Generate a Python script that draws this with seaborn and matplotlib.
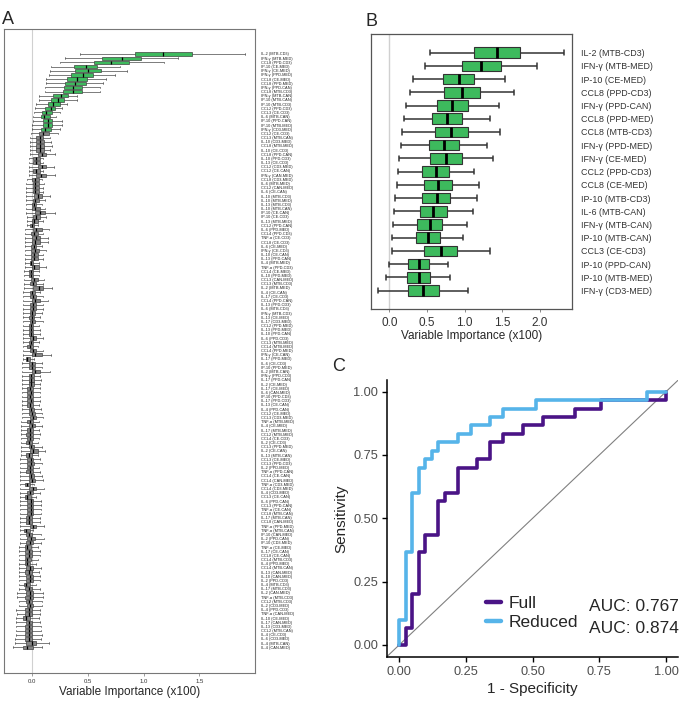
import numpy as np
import pandas as pd
import matplotlib
matplotlib.use("Agg")
import matplotlib.pyplot as plt
from matplotlib.lines import Line2D
import seaborn as sns

sns.set_theme(style="white")
plt.rcParams["font.family"] = ["Liberation Sans", "DejaVu Sans"]

GREEN = "#3dba5d"
GRAY = "#858585"
PURPLE = "#4a1486"
BLUE = "#56b4e9"

# ---------------- Panel A data ----------------
a_labels = [
    "IL-2 (MTB-CD3)", "IFN-γ (MTB-MED)", "CCL8 (PPD-CD3)", "IP-10 (CE-MED)", "IFN-γ (CE-MED)",
    "IFN-γ (PPD-MED)", "CCL8 (CE-MED)", "CCL8 (PPD-MED)", "IFN-γ (PPD-CAN)", "CCL8 (MTB-CD3)",
    "IFN-γ (MTB-CAN)", "IP-10 (MTB-CAN)", "IP-10 (MTB-CD3)", "CCL2 (PPD-CD3)", "CCL3 (CE-CD3)",
    "IL-6 (MTB-CAN)", "IP-10 (PPD-CAN)", "IP-10 (MTB-MED)", "IFN-γ (CD3-MED)", "CCL2 (CE-CD3)",
    "CCL3 (MTB-CAN)", "IL-10 (CD3-MED)", "CCL8 (MTB-MED)", "IL-10 (CE-CD3)", "CCL8 (PPD-CAN)",
    "IL-10 (PPD-CD3)", "IL-13 (CE-CD3)", "CCL2 (CD3-MED)", "CCL2 (CE-CAN)", "IFN-γ (CAN-MED)",
    "CCL8 (CD3-MED)", "IL-6 (MTB-MED)", "CCL2 (CAN-MED)", "IL-6 (CE-CAN)", "IL-10 (MTB-CD3)",
    "IL-10 (MTB-MED)", "IL-13 (MTB-CD3)", "IL-10 (MTB-CAN)", "IP-10 (CE-CAN)", "IP-10 (CE-CD3)",
    "IL-13 (MTB-MED)", "CCL2 (PPD-CAN)", "IL-6 (PPD-MED)", "CCL4 (PPD-CD3)", "TNF-α (CE-CD3)",
    "CCL8 (CE-CD3)", "IL-6 (CE-MED)", "IFN-γ (CE-CD3)", "IL-10 (CE-CAN)", "IL-13 (PPD-CAN)",
    "IL-4 (MTB-MED)", "TNF-α (PPD-CD3)", "CCL4 (CE-MED)", "IL-10 (PPD-MED)", "CCL3 (CAN-MED)",
    "CCL3 (MTB-CD3)", "IL-2 (MTB-MED)", "IL-4 (CE-CAN)", "IL-17 (CE-CD3)", "CCL4 (PPD-CAN)",
    "IL-13 (PPD-CD3)", "IL-6 (MTB-CD3)", "IFN-γ (MTB-CD3)", "IL-13 (CE-MED)", "IL-17 (CD3-MED)",
    "CCL2 (PPD-MED)", "IL-13 (PPD-MED)", "IL-10 (PPD-CAN)", "IL-6 (PPD-CD3)", "CCL3 (MTB-MED)",
    "CCL4 (MTB-MED)", "CCL4 (PPD-MED)", "IFN-γ (CE-CAN)", "IL-17 (PPD-MED)", "IL-6 (CE-CD3)",
    "IP-10 (PPD-MED)", "IL-2 (MTB-CAN)", "IFN-γ (PPD-CD3)", "IL-17 (PPD-CAN)", "IL-2 (CE-MED)",
    "IL-17 (CE-MED)", "IL-6 (CAN-MED)", "IP-10 (PPD-CD3)", "IL-17 (PPD-CD3)", "IL-13 (CE-CAN)",
    "IL-4 (PPD-CAN)", "CCL2 (CE-MED)", "CCL3 (CD3-MED)", "TNF-α (MTB-MED)", "IL-4 (CE-MED)",
    "IL-17 (MTB-MED)", "CCL2 (MTB-MED)", "CCL4 (CE-CD3)", "IL-2 (CE-CD3)", "CCL3 (PPD-MED)",
    "IL-2 (CE-CAN)", "IL-13 (MTB-CAN)", "CCL3 (CE-MED)", "CCL3 (PPD-CD3)", "IL-2 (PPD-MED)",
    "TNF-α (PPD-CAN)", "CCL4 (CE-CAN)", "CCL4 (CAN-MED)", "TNF-α (CD3-MED)", "CCL4 (CD3-MED)",
    "IL-4 (CD3-MED)", "CCL3 (CE-CAN)", "IL-6 (PPD-CAN)", "CCL3 (PPD-CAN)", "TNF-α (CE-CAN)",
    "CCL8 (MTB-CAN)", "IL-17 (MTB-CAN)", "CCL8 (CAN-MED)", "TNF-α (PPD-MED)", "TNF-α (MTB-CAN)",
    "IP-10 (CAN-MED)", "IL-2 (PPD-CAN)", "IP-10 (CD3-MED)", "TNF-α (CE-MED)", "IL-17 (CE-CAN)",
    "CCL8 (CE-CAN)", "CCL4 (MTB-CD3)", "IL-4 (PPD-MED)", "CCL4 (MTB-CAN)", "IL-13 (CAN-MED)",
    "IL-10 (CAN-MED)", "IL-2 (PPD-CD3)", "IL-4 (MTB-CD3)", "IL-17 (MTB-CD3)", "IL-2 (CAN-MED)",
    "TNF-α (MTB-CD3)", "CCL2 (MTB-CD3)", "IL-2 (CD3-MED)", "IL-4 (PPD-CD3)", "TNF-α (CAN-MED)",
    "IL-10 (CE-MED)", "IL-17 (CAN-MED)", "IL-13 (CD3-MED)", "CCL2 (MTB-CAN)", "IL-4 (CE-CD3)",
    "IL-6 (CD3-MED)", "IL-4 (MTB-CAN)", "IL-4 (CAN-MED)",
]
a_lo = [
    0.43, 0.30, 0.25, 0.17, 0.16, 0.15, 0.13, 0.13, 0.12, 0.12,
    0.06, 0.06, 0.04, 0.03, 0.02, 0.01, 0.01, 0.00, 0.00, -0.01,
    -0.02, -0.02, -0.02, -0.02, -0.02, -0.03, -0.03, -0.03, -0.03, -0.03,
    -0.04, -0.05, -0.05, -0.05, -0.05, -0.05, -0.05, -0.05, -0.05, -0.04,
    -0.04, -0.04, -0.06, -0.06, -0.06, -0.06, -0.06, -0.06, -0.06, -0.06,
    -0.06, -0.06, -0.07, -0.07, -0.07, -0.07, -0.07, -0.08, -0.08, -0.08,
    -0.08, -0.08, -0.08, -0.08, -0.08, -0.08, -0.08, -0.08, -0.08, -0.08,
    -0.08, -0.08, -0.08, -0.08, -0.09, -0.09, -0.09, -0.09, -0.09, -0.09,
    -0.09, -0.09, -0.09, -0.09, -0.09, -0.09, -0.09, -0.09, -0.10, -0.10,
    -0.10, -0.10, -0.10, -0.10, -0.10, -0.10, -0.10, -0.11, -0.11, -0.11,
    -0.11, -0.11, -0.11, -0.11, -0.11, -0.11, -0.11, -0.11, -0.11, -0.11,
    -0.11, -0.11, -0.11, -0.11, -0.11, -0.11, -0.11, -0.11, -0.12, -0.12,
    -0.12, -0.12, -0.12, -0.12, -0.12, -0.12, -0.12, -0.12, -0.12, -0.13,
    -0.13, -0.12, -0.12, -0.14, -0.13, -0.14, -0.14, -0.14, -0.14, -0.14,
    -0.15, -0.15, -0.17,
]
a_q1 = [
    0.92, 0.63, 0.56, 0.38, 0.39, 0.35, 0.31, 0.30, 0.29, 0.28,
    0.19, 0.17, 0.14, 0.12, 0.09, 0.08, 0.10, 0.10, 0.08, 0.06,
    0.04, 0.04, 0.04, 0.04, 0.05, 0.01, 0.01, 0.05, 0.01, 0.04,
    0.00, 0.01, 0.01, 0.01, 0.02, 0.01, 0.00, 0.00, 0.03, 0.01,
    0.00, -0.02, 0.01, -0.01, 0.00, 0.00, -0.01, -0.01, -0.01, -0.01,
    -0.02, 0.00, -0.03, -0.03, -0.01, -0.02, 0.01, -0.02, -0.02, 0.00,
    -0.02, -0.02, -0.02, -0.03, -0.02, -0.03, -0.03, -0.03, -0.02, -0.03,
    -0.04, -0.02, 0.00, -0.05, -0.03, -0.03, 0.00, -0.03, -0.03, -0.03,
    -0.04, -0.04, -0.04, -0.04, -0.04, -0.03, -0.03, -0.02, -0.04, -0.03,
    -0.04, -0.05, -0.04, -0.05, -0.03, -0.02, -0.05, -0.04, -0.04, -0.04,
    -0.05, -0.03, -0.03, -0.06, -0.03, -0.04, -0.06, -0.04, -0.04, -0.04,
    -0.04, -0.05, -0.05, -0.02, -0.07, -0.05, -0.04, -0.05, -0.06, -0.06,
    -0.06, -0.06, -0.06, -0.05, -0.06, -0.05, -0.05, -0.07, -0.06, -0.05,
    -0.06, -0.05, -0.04, -0.06, -0.06, -0.08, -0.05, -0.06, -0.06, -0.06,
    -0.06, -0.05, -0.08,
]
a_med = [
    1.17, 0.81, 0.71, 0.48, 0.50, 0.46, 0.40, 0.39, 0.37, 0.37,
    0.26, 0.23, 0.19, 0.17, 0.13, 0.11, 0.14, 0.14, 0.12, 0.10,
    0.07, 0.07, 0.07, 0.07, 0.09, 0.04, 0.04, 0.09, 0.04, 0.08,
    0.03, 0.03, 0.03, 0.03, 0.05, 0.03, 0.02, 0.03, 0.07, 0.04,
    0.02, 0.00, 0.04, 0.02, 0.04, 0.03, 0.02, 0.03, 0.02, 0.02,
    -0.01, 0.02, -0.01, -0.01, 0.02, 0.01, 0.06, 0.00, 0.01, 0.03,
    0.01, 0.01, 0.00, 0.00, 0.00, -0.01, -0.01, -0.01, 0.01, -0.01,
    -0.02, 0.01, 0.03, -0.04, 0.00, 0.00, 0.03, -0.01, -0.01, -0.01,
    -0.02, -0.01, -0.02, -0.01, -0.02, -0.01, 0.00, 0.01, -0.02, 0.00,
    -0.02, -0.02, -0.02, -0.03, -0.01, 0.01, -0.03, -0.01, -0.01, -0.02,
    -0.02, -0.01, 0.00, -0.04, 0.01, -0.02, -0.04, -0.01, -0.01, -0.01,
    -0.01, -0.03, -0.03, 0.01, -0.05, -0.03, -0.01, -0.02, -0.04, -0.03,
    -0.03, -0.04, -0.04, -0.02, -0.03, -0.02, -0.02, -0.05, -0.03, -0.02,
    -0.02, -0.03, -0.02, -0.03, -0.03, -0.05, -0.03, -0.03, -0.03, -0.03,
    -0.03, 0.00, -0.04,
]
a_q3 = [
    1.43, 0.98, 0.87, 0.58, 0.62, 0.55, 0.49, 0.48, 0.45, 0.45,
    0.32, 0.29, 0.25, 0.21, 0.18, 0.16, 0.18, 0.18, 0.17, 0.15,
    0.10, 0.11, 0.11, 0.11, 0.13, 0.07, 0.07, 0.13, 0.07, 0.13,
    0.06, 0.06, 0.06, 0.06, 0.09, 0.06, 0.04, 0.07, 0.12, 0.07,
    0.05, 0.02, 0.09, 0.05, 0.07, 0.07, 0.04, 0.06, 0.05, 0.05,
    0.01, 0.06, 0.01, 0.01, 0.05, 0.04, 0.10, 0.03, 0.04, 0.07,
    0.04, 0.04, 0.03, 0.02, 0.03, 0.01, 0.01, 0.01, 0.04, 0.01,
    0.01, 0.04, 0.09, -0.02, 0.03, 0.03, 0.07, 0.02, 0.02, 0.02,
    0.01, 0.01, 0.01, 0.01, 0.01, 0.02, 0.03, 0.04, 0.01, 0.03,
    0.01, 0.01, 0.01, 0.00, 0.02, 0.05, 0.00, 0.01, 0.02, 0.01,
    0.01, 0.02, 0.03, -0.02, 0.04, 0.01, -0.01, 0.01, 0.01, 0.01,
    0.01, 0.00, 0.00, 0.04, -0.02, 0.00, 0.03, 0.01, -0.01, 0.00,
    0.00, -0.01, -0.02, 0.01, 0.00, 0.01, 0.01, -0.02, 0.00, 0.01,
    0.01, 0.00, 0.01, 0.00, 0.00, -0.02, 0.00, 0.00, 0.00, 0.00,
    0.00, 0.04, 0.01,
]
a_hi = [
    1.91, 1.31, 1.18, 0.79, 0.85, 0.74, 0.66, 0.64, 0.61, 0.61,
    0.40, 0.40, 0.31, 0.27, 0.25, 0.22, 0.27, 0.27, 0.25, 0.23,
    0.16, 0.17, 0.18, 0.16, 0.21, 0.10, 0.10, 0.20, 0.10, 0.21,
    0.09, 0.11, 0.10, 0.10, 0.16, 0.12, 0.09, 0.12, 0.21, 0.13,
    0.10, 0.05, 0.15, 0.10, 0.14, 0.14, 0.09, 0.13, 0.10, 0.10,
    0.06, 0.13, 0.06, 0.06, 0.11, 0.10, 0.18, 0.07, 0.10, 0.14,
    0.10, 0.10, 0.09, 0.07, 0.10, 0.06, 0.07, 0.07, 0.10, 0.06,
    0.05, 0.10, 0.17, 0.02, 0.09, 0.09, 0.16, 0.07, 0.08, 0.07,
    0.07, 0.07, 0.07, 0.07, 0.06, 0.08, 0.09, 0.10, 0.06, 0.09,
    0.06, 0.07, 0.06, 0.05, 0.09, 0.12, 0.05, 0.07, 0.09, 0.06,
    0.07, 0.09, 0.10, 0.02, 0.11, 0.07, 0.04, 0.08, 0.08, 0.08,
    0.08, 0.07, 0.07, 0.11, 0.01, 0.08, 0.11, 0.08, 0.05, 0.07,
    0.07, 0.05, 0.04, 0.08, 0.06, 0.07, 0.07, 0.04, 0.07, 0.10,
    0.10, 0.09, 0.09, 0.07, 0.07, 0.06, 0.07, 0.08, 0.08, 0.09,
    0.08, 0.15, 0.09,
]
a_n_selected = 19

# ---------------- Panel B data ----------------
b_labels = [
    "IL-2 (MTB-CD3)", "IFN-γ (MTB-MED)", "IP-10 (CE-MED)", "CCL8 (PPD-CD3)", "IFN-γ (PPD-CAN)",
    "CCL8 (PPD-MED)", "CCL8 (MTB-CD3)", "IFN-γ (PPD-MED)", "IFN-γ (CE-MED)", "CCL2 (PPD-CD3)",
    "CCL8 (CE-MED)", "IP-10 (MTB-CD3)", "IL-6 (MTB-CAN)", "IFN-γ (MTB-CAN)", "IP-10 (MTB-CAN)",
    "CCL3 (CE-CD3)", "IP-10 (PPD-CAN)", "IP-10 (MTB-MED)", "IFN-γ (CD3-MED)",
]
b_lo = [0.54, 0.47, 0.31, 0.27, 0.22, 0.19, 0.17, 0.15, 0.13, 0.11,
        0.10, 0.08, 0.06, 0.05, 0.04, 0.04, 0.00, -0.04, -0.15]
b_q1 = [1.13, 0.97, 0.71, 0.73, 0.63, 0.56, 0.60, 0.52, 0.54, 0.44,
        0.46, 0.44, 0.41, 0.37, 0.35, 0.46, 0.25, 0.24, 0.25]
b_med = [1.43, 1.22, 0.92, 0.96, 0.83, 0.76, 0.82, 0.72, 0.75, 0.62,
         0.64, 0.63, 0.58, 0.54, 0.51, 0.68, 0.39, 0.39, 0.45]
b_q3 = [1.74, 1.48, 1.13, 1.20, 1.05, 0.96, 1.05, 0.92, 0.97, 0.79,
        0.83, 0.81, 0.76, 0.70, 0.67, 0.90, 0.52, 0.54, 0.66]
b_hi = [2.32, 1.96, 1.54, 1.66, 1.45, 1.34, 1.47, 1.30, 1.38, 1.13,
        1.19, 1.16, 1.11, 1.03, 0.98, 1.33, 0.78, 0.81, 1.05]

# ---------------- Panel C data ----------------
fpr_full = [0, 0.024, 0.049, 0.073, 0.098, 0.146, 0.171, 0.220, 0.293, 0.341,
            0.390, 0.463, 0.537, 0.659, 0.756, 1.0]
tpr_full = [0, 0.067, 0.200, 0.367, 0.433, 0.567, 0.600, 0.700, 0.733, 0.800,
            0.833, 0.867, 0.900, 0.933, 0.967, 1.0]
fpr_red = [0, 0, 0.024, 0.049, 0.073, 0.098, 0.122, 0.146, 0.220, 0.268,
           0.341, 0.390, 0.512, 0.927, 1.0]
tpr_red = [0, 0.100, 0.367, 0.600, 0.700, 0.733, 0.767, 0.800, 0.833, 0.867,
           0.900, 0.933, 0.967, 1.0, 1.0]
models = ["Full", "Reduced"]
aucs = ["AUC: 0.767", "AUC: 0.874"]


def box_frame(lo, q1, med, q3, hi, groups):
    n = len(lo)
    vals = np.column_stack([lo, q1, med, q3, hi]).ravel()
    return pd.DataFrame({"pos": np.repeat(np.arange(n), 5),
                         "value": vals,
                         "group": np.repeat(groups, 5)})


W, H = 685, 703
fig = plt.figure(figsize=(W / 100, H / 100), dpi=100)
fig.patch.set_facecolor("white")


def px_axes(x0, y0, x1, y1):
    return fig.add_axes([x0 / W, 1 - y1 / H, (x1 - x0) / W, (y1 - y0) / H])


axA = px_axes(4, 28.7, 255.3, 673)
axB = px_axes(371, 34.3, 571.7, 309)
axC = px_axes(386.7, 380, 678.3, 657.3)

# ---------- Panel A ----------
nA = len(a_labels)
a_groups = ["sel" if i < a_n_selected else "other" for i in range(nA)]
dfA = box_frame(a_lo, a_q1, a_med, a_q3, a_hi, a_groups)
axA.axvline(0, color="#d0d0d0", lw=0.8, zorder=0)
sns.boxplot(data=dfA, x="value", y="pos", hue="group", orient="h",
            palette={"sel": GREEN, "other": GRAY}, hue_order=["sel", "other"],
            saturation=1, whis=(0, 100), width=0.78, dodge=False, legend=False,
            showfliers=False, linewidth=0.45, linecolor="#333333",
            medianprops={"color": "black", "linewidth": 0.9}, ax=axA)
axA.set_xlim(-0.25, 2.0)
axA.set_ylim(nA - 1 + 6.15, -6.05)
axA.yaxis.tick_right()
axA.set_yticks(range(nA))
axA.set_yticklabels(a_labels, fontsize=2.8, color="#222222")
axA.tick_params(axis="y", length=0, pad=3.9, right=True, left=False)
axA.set_xticks([0, 0.5, 1.0, 1.5])
axA.set_xticklabels(["0.0", "0.5", "1.0", "1.5"], fontsize=4.3, color="#333333")
axA.tick_params(axis="x", bottom=True, length=2, width=0.5, color="#777777", pad=2)
axA.set_xlabel("Variable Importance (x100)", fontsize=8.5, labelpad=2)
axA.set_ylabel("")
for s in axA.spines.values():
    s.set_color("#777777")
    s.set_linewidth(0.8)

# ---------- Panel B ----------
nB = len(b_labels)
dfB = box_frame(b_lo, b_q1, b_med, b_q3, b_hi, ["sel"] * nB)
axB.axvline(0, color="#d0d0d0", lw=1.0, zorder=0)
sns.boxplot(data=dfB, x="value", y="pos", hue="group", orient="h",
            palette={"sel": GREEN}, saturation=1, whis=(0, 100), width=0.8,
            dodge=False, legend=False, showfliers=False, linewidth=1.1,
            linecolor="#333333", boxprops={"linewidth": 0.8},
            medianprops={"color": "black", "linewidth": 2.0}, ax=axB)
axB.set_xlim(-0.243, 2.42)
axB.set_ylim(nB - 1 + 1.39, -1.39)
axB.yaxis.tick_right()
axB.set_yticks(range(nB))
axB.set_yticklabels(b_labels, fontsize=6.4, color="#333333")
axB.tick_params(axis="y", length=0, pad=6.5, right=True, left=False)
axB.set_xticks([0, 0.5, 1.0, 1.5, 2.0])
axB.set_xticklabels(["0.0", "0.5", "1.0", "1.5", "2.0"], fontsize=8.5, color="#333333")
axB.tick_params(axis="x", bottom=True, length=2.5, width=0.6, color="#777777", pad=3)
axB.set_xlabel("Variable Importance (x100)", fontsize=8.5, labelpad=1)
axB.set_ylabel("")
for s in axB.spines.values():
    s.set_color("#555555")
    s.set_linewidth(0.9)

# ---------- Panel C ----------
dfC = pd.DataFrame({
    "fpr": fpr_full + fpr_red,
    "tpr": tpr_full + tpr_red,
    "model": [models[0]] * len(fpr_full) + [models[1]] * len(fpr_red),
})
axC.axline((0, 0), (1, 1), color="#808080", lw=0.8, zorder=1)
sns.lineplot(data=dfC, x="fpr", y="tpr", hue="model", hue_order=models,
             palette={"Full": PURPLE, "Reduced": BLUE}, estimator=None, sort=False,
             drawstyle="steps-post", linewidth=2.6, legend=False, ax=axC)
axC.set_xlim(-0.047, 1.046)
axC.set_ylim(-0.049, 1.046)
ticks = [0, 0.25, 0.5, 0.75, 1.0]
tlabels = ["0.00", "0.25", "0.50", "0.75", "1.00"]
axC.set_xticks(ticks)
axC.set_xticklabels(tlabels)
axC.set_yticks(ticks)
axC.set_yticklabels(tlabels)
axC.tick_params(axis="both", bottom=True, left=True, length=3.5, width=1,
                color="black", labelsize=9.2, labelcolor="#4d4d4d", pad=2.5)
axC.set_xlabel("1 - Specificity", fontsize=11, labelpad=3)
axC.set_ylabel("Sensitivity", fontsize=11, labelpad=4)
for side in ["top", "right"]:
    axC.spines[side].set_visible(False)
for side in ["left", "bottom"]:
    axC.spines[side].set_color("black")
    axC.spines[side].set_linewidth(1.1)

handles = [Line2D([], [], color=PURPLE, lw=3.2), Line2D([], [], color=BLUE, lw=3.2)]
fig.legend(handles, models, loc="upper left", bbox_to_anchor=(486 / W, 1 - 596 / H),
           bbox_transform=fig.transFigure, frameon=False, fontsize=12.5,
           handlelength=0.85, handletextpad=0.45, labelspacing=0.2,
           borderpad=0, borderaxespad=0)
for auc, yy in zip(aucs, [606.7, 628.3]):
    fig.text(589.3 / W, 1 - yy / H, auc, ha="left", va="center", fontsize=12.5)

# panel letters
fig.text(7.5 / W, 1 - 19.7 / H, "A", ha="center", va="center", fontsize=13)
fig.text(371.7 / W, 1 - 21 / H, "B", ha="center", va="center", fontsize=13)
fig.text(338.3 / W, 1 - 366.7 / H, "C", ha="center", va="center", fontsize=13)

fig.savefig("out.png", dpi=100, facecolor="white")
